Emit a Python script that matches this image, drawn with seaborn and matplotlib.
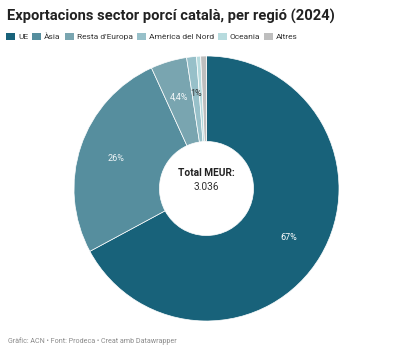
import matplotlib
matplotlib.use("Agg")
import matplotlib.pyplot as plt
import seaborn as sns
from matplotlib.patches import Patch

categories = ["UE", "Àsia", "Resta d'Europa", "Amèrica del Nord", "Oceania", "Altres"]
shares = [67, 26, 4.4, 1.2, 0.5, 0.7]
pct_labels = ["67%", "26%", "4,4%", "1%", "", ""]
label_colors = ["white", "#eef4f6", "#f4f8f9", "#333333", "#333333", "#333333"]
colors = ["#18627a", "#568e9e", "#79a5b0", "#97c0c9", "#b7dbde", "#bebebe"]
total_label = "Total MEUR:"
total_value = "3.036"

sns.set_theme(style="white")
plt.rcParams["font.family"] = ["Roboto", "DejaVu Sans"]
palette = sns.color_palette(colors)

W, H = 414, 353
fig = plt.figure(figsize=(W / 100, H / 100), dpi=100)
cx, cy, r = 206.5, 188.5, 132.5
ax = fig.add_axes([(cx - r) / W, (H - cy - r) / H, 2 * r / W, 2 * r / H])

lab_iter = iter(pct_labels)
wedges, texts, autotexts = ax.pie(
    shares, colors=palette, startangle=90, counterclock=False,
    wedgeprops=dict(width=0.645, edgecolor="white", linewidth=0.5),
    autopct=lambda p: next(lab_iter), pctdistance=0.72,
    textprops=dict(fontsize=6.5),
)
for t, c in zip(autotexts, label_colors):
    t.set_color(c)
ax.set_aspect("equal")
ax.set_xlim(-1, 1)
ax.set_ylim(-1, 1)
ax.axis("off")

ax.text(0, 0.115, total_label, ha="center", va="center", fontsize=7.3,
        fontweight="bold", color="#222222")
ax.text(0, 0.015, total_value, ha="center", va="center", fontsize=7.3,
        color="#333333")

fig.text(7 / W, 1 - 16 / H, "Exportacions sector porcí català, per regió (2024)",
         ha="left", va="center", fontsize=10.6, fontweight="bold", color="#222222")

handles = [Patch(facecolor=c, edgecolor="none") for c in colors]
fig.legend(handles, categories, loc="center left", bbox_to_anchor=(6 / W, 1 - 36.5 / H),
           ncol=6, frameon=False, fontsize=6.0, handlelength=1.08, handleheight=1.08,
           handletextpad=0.36, columnspacing=0.48, labelcolor="#333333",
           borderaxespad=0.0, borderpad=0.0)

fig.text(8 / W, 1 - 341 / H, "Gràfic: ACN • Font: Prodeca • Creat amb Datawrapper",
         ha="left", va="center", fontsize=5.1, color="#8a8a8a")

fig.savefig("out.png", dpi=100, facecolor="white")
